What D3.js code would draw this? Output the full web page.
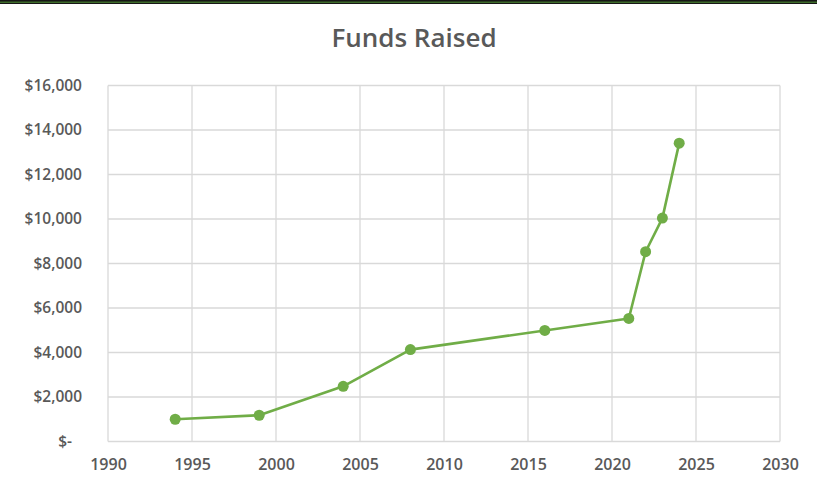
<!DOCTYPE html>
<html>
<head>
<meta charset="utf-8">
<script src="https://cdn.jsdelivr.net/npm/d3@7"></script>
<style>
  body { margin: 0; background: #fff; }
  svg { display: block; }
</style>
</head>
<body>
<svg></svg>
<script>
const years = [1994, 1999, 2004, 2008, 2016, 2021, 2022, 2023, 2024];
const funds = [1000, 1180, 2480, 4130, 4990, 5530, 8530, 10040, 13410];
const xTicks = [1990, 1995, 2000, 2005, 2010, 2015, 2020, 2025, 2030];
const yTicks = [0, 2000, 4000, 6000, 8000, 10000, 12000, 14000, 16000];

const width = 817, height = 487;
const plotLeft = 108, plotRight = 780, plotTop = 85.5, plotBottom = 441.5;
const green = '#70ad47';
const textColor = '#595959';
const font = '"Open Sans", sans-serif';

let svg = d3.select('svg')
  .attr('width', width)
  .attr('height', height);

svg.append('rect')
  .attr('width', width).attr('height', height)
  .attr('fill', '#ffffff');

// frame strip along the top
svg.append('rect').attr('x', 0).attr('y', 0).attr('width', width).attr('height', 4).attr('fill', '#161616');
svg.append('rect').attr('x', 0).attr('y', 1.5).attr('width', width).attr('height', 1.5).attr('fill', '#3d6b2a');

let x = d3.scaleLinear().domain([1990, 2030]).range([plotLeft, plotRight]);
let y = d3.scaleLinear().domain([0, 16000]).range([plotBottom, plotTop]);

// gridlines
svg.append('g')
  .selectAll('line')
  .data(yTicks)
  .join('line')
  .attr('x1', plotLeft).attr('x2', plotRight)
  .attr('y1', d => y(d)).attr('y2', d => y(d))
  .attr('stroke', '#d9d9d9').attr('stroke-width', 1.3);

svg.append('g')
  .selectAll('line')
  .data(xTicks)
  .join('line')
  .attr('x1', d => x(d)).attr('x2', d => x(d))
  .attr('y1', plotTop).attr('y2', plotBottom)
  .attr('stroke', '#d9d9d9').attr('stroke-width', 1.3);

// axes (labels only)
let money = d => d === 0 ? '$-' : '$' + d3.format(',')(d);

let yAxis = svg.append('g')
  .attr('transform', `translate(${plotLeft},0)`)
  .call(d3.axisLeft(y).tickValues(yTicks).tickFormat(money).tickSize(0).tickPadding(26));
yAxis.select('.domain').remove();
yAxis.selectAll('text')
  .attr('fill', textColor)
  .style('font', `600 15.5px ${font}`);
yAxis.selectAll('.tick')
  .filter(d => d === 0)
  .select('text')
  .attr('dx', -10);

let xAxis = svg.append('g')
  .attr('transform', `translate(0,${plotBottom})`)
  .call(d3.axisBottom(x).tickValues(xTicks).tickFormat(d3.format('d')).tickSize(0).tickPadding(17));
xAxis.select('.domain').remove();
xAxis.selectAll('text')
  .attr('fill', textColor)
  .style('font', `600 16px ${font}`);

// series
let line = d3.line()
  .x((d, i) => x(years[i]))
  .y(d => y(d));

svg.append('path')
  .attr('d', line(funds))
  .attr('fill', 'none')
  .attr('stroke', green)
  .attr('stroke-width', 2.6)
  .attr('stroke-linejoin', 'round');

svg.append('g')
  .selectAll('circle')
  .data(funds)
  .join('circle')
  .attr('cx', (d, i) => x(years[i]))
  .attr('cy', d => y(d))
  .attr('r', 5.5)
  .attr('fill', green);

svg.append('text')
  .attr('x', (plotLeft + plotRight) / 2 - 30)
  .attr('y', 47)
  .attr('text-anchor', 'middle')
  .attr('fill', textColor)
  .style('font', `600 26px ${font}`)
  .text('Funds Raised');
</script>
</body>
</html>
